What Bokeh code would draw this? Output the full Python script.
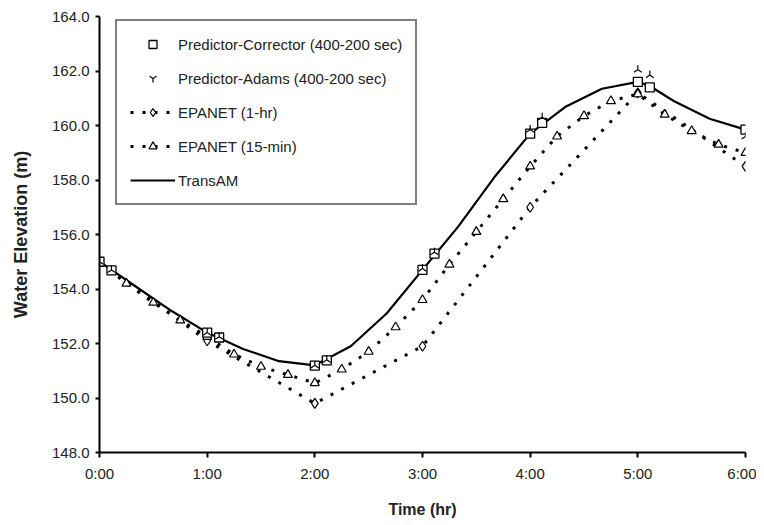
import numpy as np
from bokeh.plotting import figure
from bokeh.models import Range1d, FixedTicker, PrintfTickFormatter, Legend, LegendItem
from bokeh.embed import file_html
from bokeh.resources import INLINE

# ---- data (time in minutes, elevation in m) ----
pc_time = [0, 6.67, 60, 66.67, 120, 126.67, 180, 186.67, 240, 246.67, 300, 306.67, 360]
pc_elev = [155.0, 154.68, 152.4, 152.22, 151.19, 151.38, 154.7, 155.3, 159.7, 160.1, 161.6, 161.4, 159.85]

pa_time = [0, 6.67, 60, 66.67, 120, 126.67, 180, 186.67, 240, 246.67, 300, 306.67, 360]
pa_elev = [155.0, 154.7, 152.4, 152.25, 151.2, 151.4, 154.75, 155.35, 159.85, 160.3, 162.05, 161.85, 159.6]

ep1_time = [0, 60, 120, 180, 240, 300, 360]
ep1_elev = [155.0, 152.1, 149.8, 151.9, 157.0, 161.2, 158.5]

ep15_time = [0, 15, 30, 45, 60, 75, 90, 105, 120, 135, 150, 165, 180,
             195, 210, 225, 240, 255, 270, 285, 300, 315, 330, 345, 360]
ep15_elev = [155.0, 154.2, 153.5, 152.85, 152.25, 151.6, 151.15, 150.85, 150.55, 151.05, 151.7, 152.6, 153.6,
             154.9, 156.1, 157.3, 158.5, 159.6, 160.35, 160.9, 161.15, 160.4, 159.8, 159.3, 159.0]

ta_time = [0, 20, 40, 60, 80, 100, 120, 140, 160, 180, 200, 220, 240, 260, 280, 300, 306.67, 320, 340, 360]
ta_elev = [155.0, 154.1, 153.2, 152.4, 151.8, 151.35, 151.2, 151.9, 153.1, 154.7, 156.3, 158.1, 159.7,
           160.7, 161.35, 161.6, 161.45, 160.9, 160.25, 159.85]

x_ticks = [0, 1, 2, 3, 4, 5, 6]
x_tick_labels = ["0:00", "1:00", "2:00", "3:00", "4:00", "5:00", "6:00"]
y_ticks = [148, 150, 152, 154, 156, 158, 160, 162, 164]


def hrs(m):
    return [v / 60.0 for v in m]


FONT = "Liberation Sans"

p = figure(width=756, height=521, output_backend="svg", toolbar_location=None,
           x_range=Range1d(0, 6), y_range=Range1d(148, 164),
           min_border_left=99, min_border_top=16, min_border_right=11, min_border_bottom=69)
p.outline_line_color = None
p.xgrid.visible = False
p.ygrid.visible = False
p.background_fill_color = "white"
p.border_fill_color = "white"

# series
ta_r = p.line(hrs(ta_time), ta_elev, line_color="black", line_width=2.2)

ep1_l = p.line(hrs(ep1_time), ep1_elev, line_color="black", line_width=3, line_dash="3 9")
ep1_m = p.scatter(hrs(ep1_time), ep1_elev, marker="diamond", size=10, fill_color="white",
                  line_color="black", line_width=1.2)

ep15_l = p.line(hrs(ep15_time), ep15_elev, line_color="black", line_width=3, line_dash="3 9")
ep15_m = p.scatter(hrs(ep15_time), ep15_elev, marker="triangle", size=9, fill_color="white",
                   line_color="black", line_width=1.2)

pc_r = p.scatter(hrs(pc_time), pc_elev, marker="square", size=9, fill_color="white",
                 line_color="black", line_width=1.3)
pa_r = p.scatter(hrs(pa_time), pa_elev, marker="y", angle=np.pi, size=9, fill_color=None,
                 line_color="black", line_width=1.2)

# axes
p.xaxis.ticker = FixedTicker(ticks=x_ticks)
p.xaxis.major_label_overrides = {t: l for t, l in zip(x_ticks, x_tick_labels)}
p.yaxis.ticker = FixedTicker(ticks=y_ticks)
p.yaxis.formatter = PrintfTickFormatter(format="%.1f")
for ax in (p.xaxis[0], p.yaxis[0]):
    ax.axis_line_width = 2
    ax.axis_line_color = "black"
    ax.major_tick_line_width = 2
    ax.major_tick_line_color = "black"
    ax.major_tick_in = 0
    ax.minor_tick_line_color = None
    ax.major_label_text_font = FONT
    ax.major_label_text_font_size = "15px"
    ax.major_label_text_color = "#222222"
    ax.axis_label_text_font = FONT
    ax.axis_label_text_font_style = "bold"
    ax.axis_label_text_color = "#222222"
p.xaxis.major_tick_out = 5
p.yaxis.major_tick_out = 4
p.xaxis.axis_label = "Time (hr)"
p.yaxis.axis_label = "Water Elevation (m)"
p.xaxis.axis_label_text_font_size = "16px"
p.yaxis.axis_label_text_font_size = "18px"
p.xaxis.major_label_standoff = 7
p.xaxis.axis_label_standoff = 16
p.yaxis.major_label_standoff = 6
p.yaxis.axis_label_standoff = 18

legend = Legend(items=[
    LegendItem(label="Predictor-Corrector (400-200 sec)", renderers=[pc_r]),
    LegendItem(label="Predictor-Adams (400-200 sec)", renderers=[pa_r]),
    LegendItem(label="EPANET (1-hr)", renderers=[ep1_l, ep1_m]),
    LegendItem(label="EPANET (15-min)", renderers=[ep15_l, ep15_m]),
    LegendItem(label="TransAM", renderers=[ta_r]),
], location=(16, 247))
legend.border_line_color = "black"
legend.border_line_width = 2
legend.background_fill_color = "white"
legend.background_fill_alpha = 1
legend.label_text_font = FONT
legend.label_text_font_size = "15px"
legend.label_text_color = "#222222"
legend.glyph_width = 45
legend.glyph_height = 20
legend.label_height = 20
legend.spacing = 14
legend.padding = 13
legend.margin = 0
legend.label_standoff = 3
p.add_layout(legend, "center")

open("out.html", "w").write(file_html(p, INLINE))
